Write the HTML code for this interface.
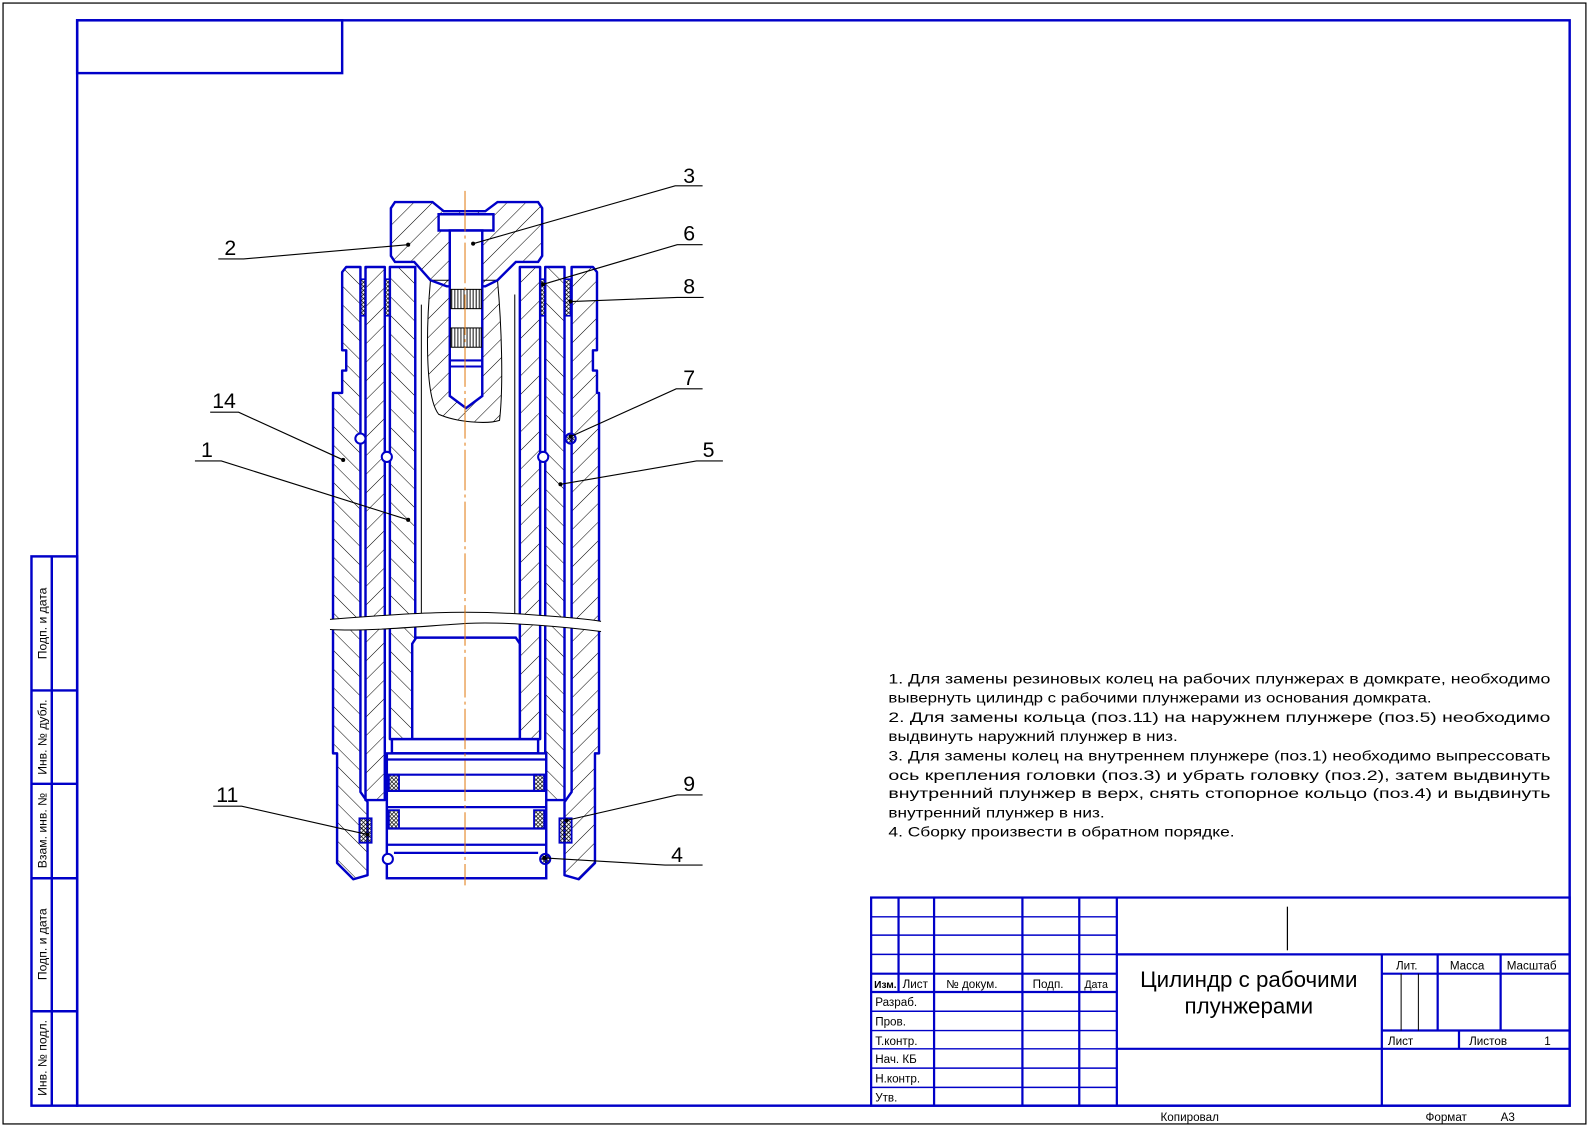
<!DOCTYPE html>
<html><head><meta charset="utf-8"><style>
html,body{margin:0;padding:0;background:#fff;}
svg{display:block;}
text{font-family:"Liberation Sans","DejaVu Sans",sans-serif;fill:#000;}
</style></head><body>
<svg width="1592" height="1127" viewBox="0 0 1568 1110" xmlns="http://www.w3.org/2000/svg">
<defs>
<pattern id="hA" width="13" height="13" patternUnits="userSpaceOnUse" patternTransform="rotate(45)"><line x1="0" y1="0" x2="0" y2="13" stroke="#000" stroke-width="1"/></pattern>
<pattern id="hB" width="13" height="13" patternUnits="userSpaceOnUse" patternTransform="rotate(-45)"><line x1="0" y1="0" x2="0" y2="13" stroke="#000" stroke-width="1"/></pattern>
<pattern id="xh" width="4" height="4" patternUnits="userSpaceOnUse"><path d="M0 0L4 4M4 0L0 4" stroke="#000" stroke-width="0.7"/></pattern>
<pattern id="kn" width="3" height="10" patternUnits="userSpaceOnUse"><line x1="1" y1="0" x2="1" y2="10" stroke="#000" stroke-width="0.9"/></pattern>
</defs>
<rect width="1568" height="1110" fill="#fff"/>
<rect x="3" y="3" width="1559" height="1104" fill="none" stroke="#000" stroke-width="1.2"/>
<g stroke="#0000c8" stroke-width="2.4" fill="none">
<rect x="76" y="20" width="1470" height="1069"/>
<rect x="76" y="20" width="261" height="52"/>
<rect x="31" y="548" width="45" height="541"/>
<line x1="51" y1="548" x2="51" y2="1089"/>
<line x1="31" y1="680" x2="76" y2="680"/>
<line x1="31" y1="772" x2="76" y2="772"/>
<line x1="31" y1="865" x2="76" y2="865"/>
<line x1="31" y1="996" x2="76" y2="996"/>
</g>
<g font-size="12">
<text transform="translate(46,614) rotate(-90)" text-anchor="middle">Подп. и дата</text>
<text transform="translate(46,726) rotate(-90)" text-anchor="middle">Инв. № дубл.</text>
<text transform="translate(46,818) rotate(-90)" text-anchor="middle">Взам. инв. №</text>
<text transform="translate(46,930) rotate(-90)" text-anchor="middle">Подп. и дата</text>
<text transform="translate(46,1042) rotate(-90)" text-anchor="middle">Инв. № подл.</text>
</g>

<g stroke="#0000c8" stroke-width="2.2" fill="none">
<rect x="858" y="884" width="688" height="205"/>
<line x1="1100" y1="884" x2="1100" y2="1089"/>
<line x1="920" y1="884" x2="920" y2="1089"/>
<line x1="1007" y1="884" x2="1007" y2="1089"/>
<line x1="1063" y1="884" x2="1063" y2="1089"/>
<line x1="885" y1="884" x2="885" y2="977"/>
<line x1="858" y1="903" x2="1100" y2="903" stroke-width="1.4"/>
<line x1="858" y1="921" x2="1100" y2="921" stroke-width="1.4"/>
<line x1="858" y1="940" x2="1100" y2="940" stroke-width="1.4"/>
<line x1="858" y1="959" x2="1100" y2="959"/>
<line x1="858" y1="977" x2="1100" y2="977"/>
<line x1="858" y1="996" x2="1100" y2="996" stroke-width="1.4"/>
<line x1="858" y1="1015" x2="1100" y2="1015" stroke-width="1.4"/>
<line x1="858" y1="1033" x2="1100" y2="1033" stroke-width="1.4"/>
<line x1="858" y1="1052" x2="1100" y2="1052" stroke-width="1.4"/>
<line x1="858" y1="1071" x2="1100" y2="1071" stroke-width="1.4"/>
<line x1="1100" y1="940" x2="1546" y2="940"/>
<line x1="1100" y1="1033" x2="1546" y2="1033"/>
<line x1="1361" y1="940" x2="1361" y2="1089"/>
<line x1="1361" y1="959" x2="1546" y2="959"/>
<line x1="1361" y1="1015" x2="1546" y2="1015"/>
<line x1="1416" y1="940" x2="1416" y2="1015"/>
<line x1="1478" y1="940" x2="1478" y2="1015"/>
<line x1="1437" y1="1015" x2="1437" y2="1033"/>
<line x1="1380" y1="959" x2="1380" y2="1015" stroke="#000" stroke-width="1"/>
<line x1="1397" y1="959" x2="1397" y2="1015" stroke="#000" stroke-width="1"/>
<line x1="1268" y1="893" x2="1268" y2="936" stroke="#000" stroke-width="1.2"/>
</g>
<g font-size="11.5">
<text x="861" y="973" font-size="10" font-weight="bold">Изм.</text>
<text x="889" y="973">Лист</text>
<text x="932" y="973">№ докум.</text>
<text x="1017" y="973">Подп.</text>
<text x="1068" y="973" font-size="10.5">Дата</text>
<text x="862" y="991">Разраб.</text>
<text x="862" y="1010">Пров.</text>
<text x="862" y="1029">Т.контр.</text>
<text x="862" y="1047">Нач. КБ</text>
<text x="862" y="1066">Н.контр.</text>
<text x="862" y="1085">Утв.</text>
<text x="1375" y="955">Лит.</text>
<text x="1428" y="955">Масса</text>
<text x="1484" y="955">Масштаб</text>
<text x="1367" y="1029">Лист</text>
<text x="1447" y="1029">Листов</text>
<text x="1521" y="1029">1</text>
<text x="1143" y="1104">Копировал</text>
<text x="1404" y="1104">Формат</text>
<text x="1478" y="1104">А3</text>
</g>
<text x="1230" y="972" font-size="22" text-anchor="middle">Цилиндр с рабочими</text>
<text x="1230" y="998" font-size="22" text-anchor="middle">плунжерами</text>

<g font-size="14">
<text x="875" y="673" textLength="652" lengthAdjust="spacingAndGlyphs">1. Для замены резиновых колец на рабочих плунжерах в домкрате, необходимо</text>
<text x="875" y="692" textLength="535" lengthAdjust="spacingAndGlyphs">вывернуть цилиндр с рабочими плунжерами из основания домкрата.</text>
<text x="875" y="711" textLength="652" lengthAdjust="spacingAndGlyphs">2. Для замены кольца (поз.11) на наружнем плунжере (поз.5) необходимо</text>
<text x="875" y="730" textLength="285" lengthAdjust="spacingAndGlyphs">выдвинуть наружний плунжер в низ.</text>
<text x="875" y="749" textLength="652" lengthAdjust="spacingAndGlyphs">3. Для замены колец на внутреннем плунжере (поз.1) необходимо выпрессовать</text>
<text x="875" y="768" textLength="652" lengthAdjust="spacingAndGlyphs">ось крепления головки (поз.3) и убрать головку (поз.2), затем выдвинуть</text>
<text x="875" y="786" textLength="652" lengthAdjust="spacingAndGlyphs">внутренний плунжер в верх, снять стопорное кольцо (поз.4) и выдвинуть</text>
<text x="875" y="805" textLength="213" lengthAdjust="spacingAndGlyphs">внутренний плунжер в низ.</text>
<text x="875" y="824" textLength="341" lengthAdjust="spacingAndGlyphs">4. Сборку произвести в обратном порядке.</text>
</g>

<g stroke="#0000c8" stroke-width="2.4" stroke-linejoin="round">
<path d="M337,268 L341,263 L355,263 L355,780 L362,790 L362,862 L348,866 L332,850 L332,742 L328,742 L328,387 L337,387 L337,365 L341,365 L341,345 L337,345 Z" fill="url(#hB)"/>
<path d="M588,268 L584,263 L563,263 L563,780 L556,790 L556,862 L570,866 L586,850 L586,742 L590,742 L590,387 L588,387 L588,365 L584,365 L584,345 L588,345 Z" fill="url(#hA)"/>
<rect x="360" y="263" width="19" height="525" fill="url(#hA)"/>
<rect x="537" y="263" width="19" height="525" fill="url(#hB)"/>
<rect x="384" y="263" width="25" height="465" fill="url(#hB)"/>
<rect x="512" y="263" width="20" height="465" fill="url(#hA)"/>
</g>
<g stroke="#000" stroke-width="1">
<line x1="415" y1="300" x2="415" y2="612"/>
<line x1="507" y1="290" x2="507" y2="612"/>
</g>
<g stroke="#0000c8" stroke-width="1.6" fill="url(#xh)">
<rect x="355" y="275" width="5" height="36"/>
<rect x="379" y="275" width="5" height="36"/>
<rect x="532" y="275" width="5" height="36"/>
<rect x="556" y="275" width="6" height="36"/>
</g>
<g stroke="#0000c8" stroke-width="2" fill="#fff">
<circle cx="355" cy="432" r="5"/>
<circle cx="381" cy="450" r="5"/>
<circle cx="535" cy="450" r="5"/>
<circle cx="562" cy="432" r="5" fill="url(#xh)"/>
</g>
<path d="M424,276 C420,320 418,390 432,408 C450,416 480,418 492,414 C496,380 494,320 490,276 Z" fill="url(#hA)" stroke="#000" stroke-width="1"/>
<path d="M385,205 L389,199 L426,199 L437,208 L478,208 L490,199 L530,199 L534,205 L534,252 L530,258 L508,258 L490,276 L478,282 L440,282 L424,276 L408,258 L389,258 L385,252 Z" fill="url(#hA)" stroke="#0000c8" stroke-width="2.4"/>
<g stroke="#0000c8" stroke-width="2.4" fill="#fff">
<path d="M432,211 L486,211 L486,227 L432,227 Z"/>
<path d="M443,227 L475,227 L475,390 L459,402 L443,390 Z"/>
</g>
<rect x="444" y="285" width="30" height="19" fill="url(#kn)" stroke="#000" stroke-width="1"/>
<rect x="444" y="323" width="30" height="19" fill="url(#kn)" stroke="#000" stroke-width="1"/>
<g stroke="#0000c8" stroke-width="2"><line x1="443" y1="355" x2="475" y2="355"/><line x1="443" y1="361" x2="475" y2="361"/></g>

<g stroke="#0000c8" stroke-width="2.4" fill="#fff">
<path d="M410,628 L508,628 L512,634 L512,728 L406,728 L406,634 Z"/>
<rect x="386" y="728" width="144" height="14"/>
<rect x="381" y="742" width="157" height="123"/>
</g>
<g stroke="#0000c8" stroke-width="2.2">
<line x1="381" y1="748" x2="538" y2="748"/>
<line x1="381" y1="763" x2="538" y2="763"/>
<line x1="381" y1="779" x2="538" y2="779"/>
<line x1="381" y1="795" x2="538" y2="795"/>
<line x1="381" y1="816" x2="538" y2="816"/>
<line x1="381" y1="832" x2="538" y2="832"/>
<line x1="388" y1="840" x2="530" y2="840"/>
</g>
<g stroke="#0000c8" stroke-width="1.8" fill="url(#xh)">
<rect x="383" y="763" width="10" height="16"/>
<rect x="526" y="763" width="10" height="16"/>
<rect x="383" y="798" width="10" height="18"/>
<rect x="526" y="798" width="10" height="18"/>
<rect x="354" y="806" width="12" height="24"/>
<rect x="551" y="806" width="12" height="24"/>
</g>
<g stroke="#0000c8" stroke-width="2" fill="#fff">
<circle cx="382" cy="846" r="5"/>
<circle cx="537" cy="846" r="5" fill="url(#xh)"/>
</g>
<path d="M325,610 C400,604 460,600 530,606 C560,608 580,610 592,612 L592,622 C560,618 500,612 460,614 C400,618 360,622 325,620 Z" fill="#fff"/>
<path d="M325,610 C400,604 460,600 530,606 C560,608 580,610 592,612" fill="none" stroke="#000" stroke-width="1"/>
<path d="M325,620 C360,622 400,618 460,614 C500,612 560,618 592,622" fill="none" stroke="#000" stroke-width="1"/>
<line x1="458" y1="188" x2="458" y2="872" stroke="#e07a10" stroke-width="1" stroke-dasharray="40,4,3,4"/>

<g stroke="#000" stroke-width="1.1" fill="none">
<path d="M692,183 L665,183 L466,240"/>
<path d="M215,255 L240,255 L402,241"/>
<path d="M692,241 L667,241 L535,280"/>
<path d="M693,293 L667,293 L562,297"/>
<path d="M692,383 L666,383 L562,430"/>
<path d="M712,454 L686,454 L552,477"/>
<path d="M207,406 L235,406 L338,453"/>
<path d="M192,454 L218,454 L402,512"/>
<path d="M210,794 L238,794 L362,822"/>
<path d="M692,783 L667,783 L558,808"/>
<path d="M692,852 L655,852 L536,845"/>
</g>
<g fill="#000">
<circle cx="466" cy="240" r="2"/><circle cx="402" cy="241" r="2"/><circle cx="535" cy="280" r="2"/>
<circle cx="562" cy="297" r="2"/><circle cx="562" cy="430" r="2"/><circle cx="552" cy="477" r="2"/>
<circle cx="338" cy="453" r="2"/><circle cx="402" cy="512" r="2"/><circle cx="362" cy="822" r="2"/>
<circle cx="558" cy="808" r="2"/><circle cx="536" cy="845" r="2"/>
</g>
<g font-size="21">
<text x="673" y="180">3</text>
<text x="221" y="251">2</text>
<text x="673" y="237">6</text>
<text x="673" y="289">8</text>
<text x="673" y="379">7</text>
<text x="692" y="450">5</text>
<text x="209" y="402">14</text>
<text x="198" y="450">1</text>
<text x="213" y="790">11</text>
<text x="673" y="779">9</text>
<text x="661" y="849">4</text>
</g>
</svg>
</body></html>
